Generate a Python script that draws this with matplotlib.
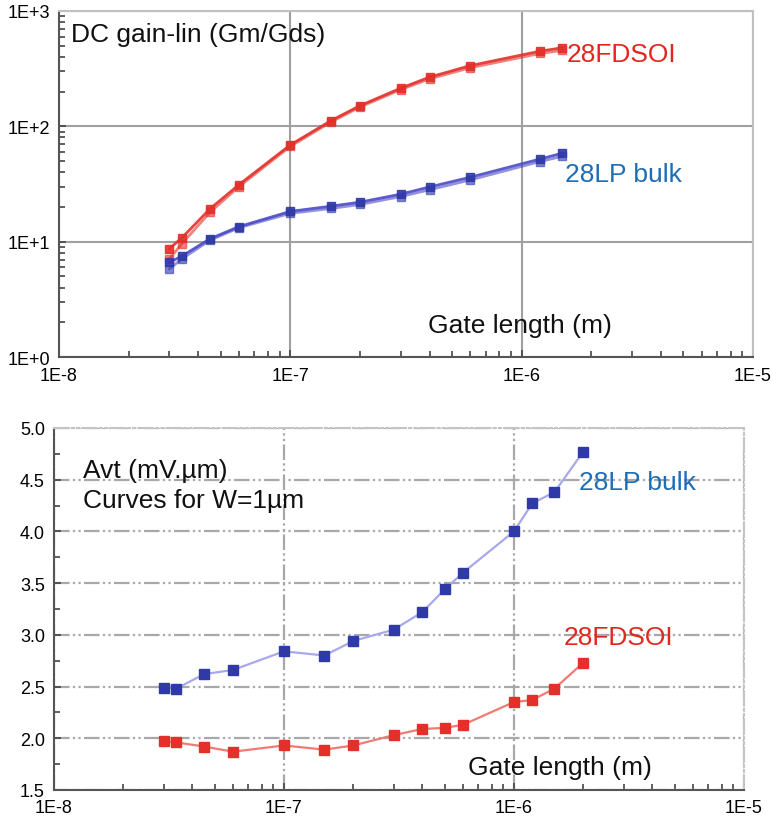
import matplotlib
matplotlib.use("Agg")
import matplotlib.pyplot as plt
from matplotlib.ticker import LogLocator, FixedLocator, MultipleLocator, NullFormatter

plt.rcParams['font.family'] = ['Liberation Sans', 'DejaVu Sans']

# ---------------- data: DC gain (top) ----------------
gain_L = [3e-8, 3.4e-8, 4.5e-8, 6e-8, 1e-7, 1.5e-7, 2e-7, 3e-7, 4e-7, 6e-7, 1.2e-6, 1.5e-6]
gain_fdsoi_a = [8.7, 10.8, 19.3, 31.2, 69, 112, 151, 214, 267, 336, 448, 480]
gain_fdsoi_b = [7.1, 9.6, 18.0, 30.0, 67, 109, 147, 208, 258, 322, 428, 455]
gain_bulk_a = [6.6, 7.5, 10.6, 13.5, 18.3, 20.3, 22.0, 25.8, 29.8, 36.2, 52.0, 58.5]
gain_bulk_b = [5.8, 7.1, 10.3, 13.2, 17.6, 19.4, 21.0, 24.6, 28.2, 34.3, 49.5, 55.0]

# ---------------- data: Avt (bottom) ----------------
avt_L = [3e-8, 3.4e-8, 4.5e-8, 6e-8, 1e-7, 1.5e-7, 2e-7, 3e-7, 4e-7, 5e-7, 6e-7, 1e-6, 1.2e-6, 1.5e-6, 2e-6]
avt_bulk = [2.49, 2.48, 2.62, 2.66, 2.84, 2.80, 2.94, 3.05, 3.22, 3.44, 3.60, 4.00, 4.27, 4.38, 4.77]
avt_fdsoi = [1.97, 1.96, 1.92, 1.87, 1.93, 1.89, 1.93, 2.03, 2.09, 2.10, 2.13, 2.35, 2.37, 2.48, 2.73]

top_yticks = [1, 10, 100, 1000]
top_ylabels = ['1E+0', '1E+1', '1E+2', '1E+3']
xticks = [1e-8, 1e-7, 1e-6, 1e-5]
xlabels = ['1E-8', '1E-7', '1E-6', '1E-5']
bot_yticks = [1.5, 2.0, 2.5, 3.0, 3.5, 4.0, 4.5, 5.0]

RED = '#e3302a'
RED_TXT = '#e0281f'
BLUE_M = '#2f3aa8'
BLUE_TXT = '#1f6db5'
FS = 19
TFS = 13

fig = plt.figure(figsize=(7.72, 8.2), dpi=100)

# ================= top panel =================
ax1 = fig.add_axes([0.0764, 0.5634, 0.899, 0.4220])
ax1.set_xscale('log')
ax1.set_yscale('log')
ax1.set_xlim(1e-8, 1e-5)
ax1.set_ylim(1, 1000)

for yv, a in [(gain_fdsoi_b, 0.6), (gain_fdsoi_a, 0.9)]:
    ax1.plot(gain_L, yv, color=RED, lw=2.0, alpha=a, marker='s', ms=6,
             mfc=RED, mec=RED, zorder=3)
for yv, a in [(gain_bulk_b, 0.6), (gain_bulk_a, 0.9)]:
    ax1.plot(gain_L, yv, color='#4a4ac8', lw=2.0, alpha=a, marker='s', ms=6,
             mfc=BLUE_M, mec=BLUE_M, zorder=3)

ax1.xaxis.set_major_locator(FixedLocator(xticks))
ax1.set_xticklabels(xlabels)
ax1.xaxis.set_minor_locator(LogLocator(base=10, subs=range(2, 10), numticks=20))
ax1.xaxis.set_minor_formatter(NullFormatter())
ax1.yaxis.set_major_locator(FixedLocator(top_yticks))
ax1.set_yticklabels(top_ylabels)
ax1.yaxis.set_minor_locator(LogLocator(base=10, subs=range(2, 10), numticks=20))
ax1.yaxis.set_minor_formatter(NullFormatter())
ax1.tick_params(axis='both', which='both', direction='in', color='#444444',
                labelsize=TFS, top=False, right=False)
ax1.tick_params(axis='both', which='major', length=5, width=1.2)
ax1.tick_params(axis='both', which='minor', length=4, width=1.2)
ax1.tick_params(axis='x', which='major', pad=7.5)
ax1.tick_params(axis='y', which='major', pad=6.5)
ax1.grid(True, which='major', color='#a0a0a0', lw=1.5, ls='-')
for s in ['left', 'bottom']:
    ax1.spines[s].set_color('#555555')
    ax1.spines[s].set_linewidth(1.5)
for s in ['top', 'right']:
    ax1.spines[s].set_color('#c0c0c0')
    ax1.spines[s].set_linewidth(1.5)

ax1.text(0.017, 0.913, 'DC gain-lin (Gm/Gds)', transform=ax1.transAxes,
         fontsize=FS, color='#111111', ha='left', va='baseline')
ax1.text(0.732, 0.855, '28FDSOI', transform=ax1.transAxes,
         fontsize=FS, color=RED_TXT, ha='left', va='baseline')
ax1.text(0.729, 0.509, '28LP bulk', transform=ax1.transAxes,
         fontsize=FS, color=BLUE_TXT, ha='left', va='baseline')
ax1.text(0.532, 0.072, 'Gate length (m)', transform=ax1.transAxes,
         fontsize=FS, color='#111111', ha='left', va='baseline')

# ================= bottom panel =================
ax2 = fig.add_axes([0.0699, 0.0354, 0.8938, 0.4415])
ax2.set_xscale('log')
ax2.set_xlim(1e-8, 1e-5)
ax2.set_ylim(1.5, 5.0)

ax2.plot(avt_L, avt_bulk, color='#a8a8ec', lw=1.6, marker='s', ms=6.5,
         mfc=BLUE_M, mec=BLUE_M, zorder=3)
ax2.plot(avt_L, avt_fdsoi, color='#f07a74', lw=1.6, marker='s', ms=6.5,
         mfc=RED, mec=RED, zorder=3)

ax2.xaxis.set_major_locator(FixedLocator(xticks))
ax2.set_xticklabels(xlabels)
ax2.xaxis.set_minor_locator(LogLocator(base=10, subs=range(2, 10), numticks=20))
ax2.xaxis.set_minor_formatter(NullFormatter())
ax2.yaxis.set_major_locator(FixedLocator(bot_yticks))
ax2.set_yticklabels(['%.1f' % v for v in bot_yticks])
ax2.yaxis.set_minor_locator(MultipleLocator(0.25))
ax2.tick_params(axis='both', which='both', direction='in', color='#444444',
                labelsize=TFS, top=False, right=False)
ax2.tick_params(axis='both', which='major', length=5, width=1.2)
ax2.tick_params(axis='both', which='minor', length=4, width=1.2)
ax2.tick_params(axis='x', which='major', pad=6.5)
ax2.tick_params(axis='y', which='major', pad=6.5)
ax2.grid(True, which='major', color='#a8a8a8', lw=1.6,
         ls=(0, (7, 1.5, 1, 1.5, 1, 1.5)))
for s in ['left', 'bottom']:
    ax2.spines[s].set_color('#555555')
    ax2.spines[s].set_linewidth(1.5)
for s in ['top', 'right']:
    ax2.spines[s].set_color('#c4c4c4')
    ax2.spines[s].set_linewidth(1.5)
    ax2.spines[s].set_linestyle((0, (7, 1.5, 1, 1.5, 1, 1.5)))

ax2.text(0.042, 0.865, 'Avt (mV.\u00b5m)', transform=ax2.transAxes,
         fontsize=FS, color='#111111', ha='left', va='baseline')
ax2.text(0.042, 0.782, 'Curves for W=1\u00b5m', transform=ax2.transAxes,
         fontsize=FS, color='#111111', ha='left', va='baseline')
ax2.text(0.761, 0.831, '28LP bulk', transform=ax2.transAxes,
         fontsize=FS, color=BLUE_TXT, ha='left', va='baseline')
ax2.text(0.739, 0.403, '28FDSOI', transform=ax2.transAxes,
         fontsize=FS, color=RED_TXT, ha='left', va='baseline')
ax2.text(0.600, 0.044, 'Gate length (m)', transform=ax2.transAxes,
         fontsize=FS, color='#111111', ha='left', va='baseline')

fig.savefig('out.png', dpi=100)
